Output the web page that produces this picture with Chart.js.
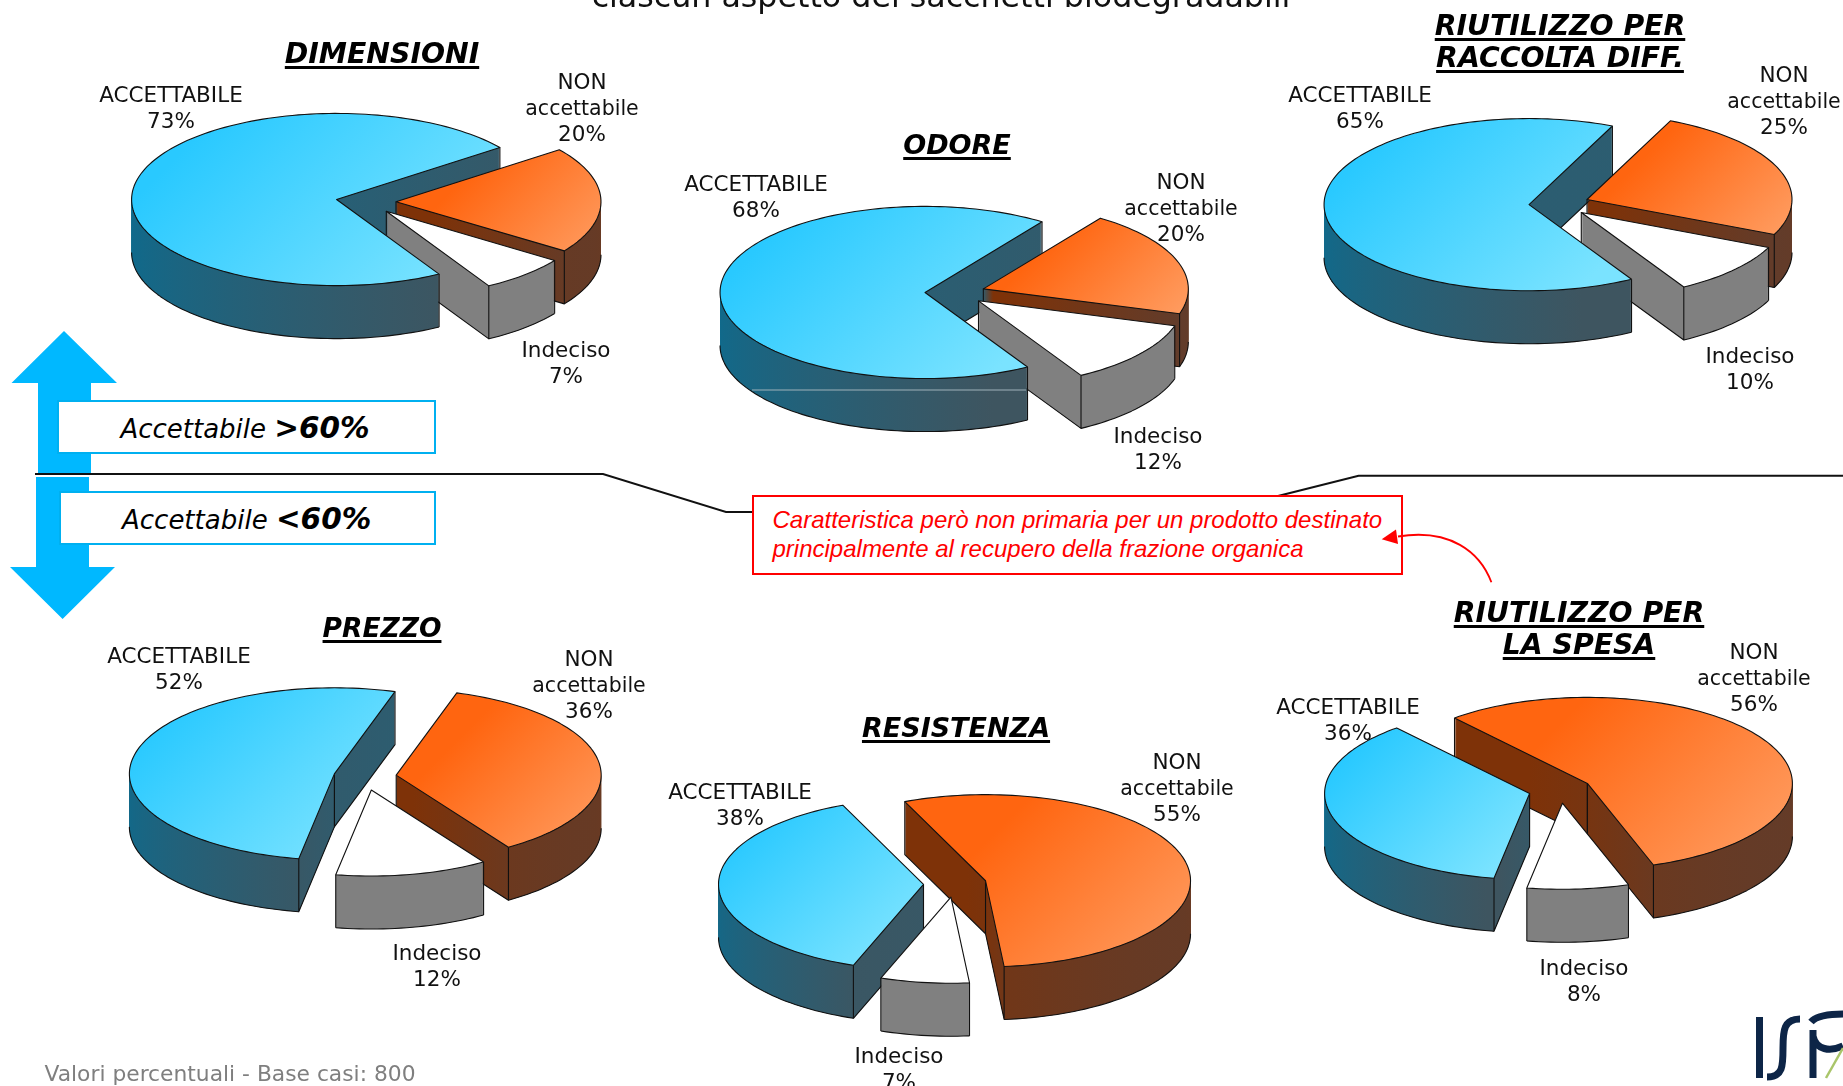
<!DOCTYPE html>
<html lang="it">
<head>
<meta charset="utf-8">
<title>Valutazione sacchetti biodegradabili</title>
<script src="https://cdn.jsdelivr.net/npm/chart.js@4/dist/chart.umd.min.js"></script>
<style>
  html, body { margin: 0; background: #fff; }
  #page { position: relative; width: 1843px; height: 1086px; overflow: hidden; font-family: "DejaVu Sans", sans-serif; color: #111; }
  #page canvas { position: absolute; }
  #page svg { position: absolute; left: 0; top: 0; }
  .txt { position: absolute; white-space: nowrap; text-align: center; transform: translateX(-50%); }
  .label { font-size: 21.5px; line-height: 25.5px; }
  .label span { font-size: 20.5px; }
  .title { line-height: 32px; font-weight: bold; font-style: italic; text-decoration: underline; text-decoration-thickness: 3px; text-underline-offset: 3px; color: #000; }
  .box { position: absolute; box-sizing: border-box; background: #fff; border: 2.5px solid #00b0f0; font-size: 26px; font-style: italic; line-height: 52px; padding-left: 61px; white-space: nowrap; color: #000; }
  .box b { font-size: 29.5px; }
  #note { position: absolute; box-sizing: border-box; left: 752px; top: 495px; width: 651px; height: 79.5px; background: #fff; border: 2.5px solid #f00; color: #f00; font: italic 24px/29px "Liberation Sans", sans-serif; padding: 8px 0 0 18.5px; white-space: nowrap; }
</style>
</head>
<body>
<div id="page"></div>
<script>
// values, one entry per pie
const pieTitles = ['DIMENSIONI', 'ODORE', 'RIUTILIZZO PER<br>RACCOLTA DIFF.', 'PREZZO', 'RESISTENZA', 'RIUTILIZZO PER<br>LA SPESA'];
const sliceLabels = ['ACCETTABILE', 'NON<br><span>accettabile</span>', 'Indeciso'];
const accettabile = [73, 68, 65, 52, 38, 36];
const nonAccettabile = [20, 20, 25, 36, 55, 56];
const indeciso = [7, 12, 10, 12, 7, 8];

const headline = 'ciascun aspetto dei sacchetti biodegradabili';
const footnote = 'Valori percentuali - Base casi: 800';
const noteLines = ['Caratteristica però non primaria per un prodotto destinato', 'principalmente al recupero della frazione organica'];

// layout: pie centre, start angle, slice gap, title size
const pieCentres = [[365.5, 202], [955, 293.3], [1559.2, 203.9], [365, 776.5], [954.5, 883.5], [1560, 790]];
const pieRotation = [150, 150, 150, 190, 200, 190];
const pieExplode = [30, 30, 30, 31.5, 31.5, 31.5];
const titleSizes = [28.3, 27, 28.3, 26.5, 27, 28.3];
const titleAnchors = [[382, 38], [957, 129], [1560, 10], [382, 612], [956, 712], [1579, 597]];
const labelAnchors = [
  [[171, 82], [582, 69], [566, 337]],
  [[756, 171], [1181, 169], [1158, 423]],
  [[1360, 82], [1784, 62], [1750, 343]],
  [[179, 643], [589, 646], [437, 940]],
  [[740, 779], [1177, 749], [899, 1043]],
  [[1348, 694], [1754, 639], [1584, 955]],
];

const RADIUS = 205;
const TILT = 0.42;
const DEPTH = 53;
const CANVAS = 580;

const topColors = [['#29c9ff', '#7ae3ff'], ['#ff6510', '#ffa066'], ['#ffffff', '#ffffff']];
const wallColors = [['#0f6a8c', '#3e5560'], ['#7e3208', '#5f3d2e'], ['#808080', '#808080']];

const page = document.getElementById('page');

function addText(cls, html, x, y) {
  const el = document.createElement('div');
  el.className = 'txt ' + cls;
  el.innerHTML = html;
  el.style.left = x + 'px';
  el.style.top = y + 'px';
  page.appendChild(el);
  return el;
}

// one slice with its exploded position and gradients
function makeSlice(arc, i, ctx, explode) {
  const a = arc.startAngle, b = arc.endAngle, mid = (a + b) / 2;
  const s = { arc, i, a, b, mid, ox: arc.x + Math.cos(mid) * explode, oy: Math.sin(mid) * explode };
  s.discY = arc.y + s.oy;

  const xs = [0, Math.cos(a), Math.cos(b)], ys = [0, Math.sin(a), Math.sin(b)];
  for (let k = -4; k <= 8; k++) {
    const q = k * Math.PI / 2;
    if (q > a && q < b) { xs.push(Math.cos(q)); ys.push(Math.sin(q)); }
  }
  const x0 = s.ox + Math.min(...xs) * RADIUS, x1 = s.ox + Math.max(...xs) * RADIUS;
  const y0 = s.discY + Math.min(...ys) * RADIUS, y1 = s.discY + Math.max(...ys) * RADIUS;
  // the disc is squashed afterwards: pick the vector that looks diagonal on screen
  const t = ((x1 - x0) + TILT * (y1 - y0)) / (1 + TILT * TILT);
  const grad = (c) => {
    const g = ctx.createLinearGradient(x0, y0, x0 + t, y0 + t * TILT);
    g.addColorStop(0.22, c[0]);
    g.addColorStop(0.95, c[1]);
    return g;
  };
  s.top = grad(topColors[i]);
  s.wall = grad(wallColors[i]);

  // part of the slice facing the viewer (angles 0..180)
  s.front = null;
  for (const k of [-1, 0, 1, 2]) {
    const lo = Math.max(a, k * 2 * Math.PI), hi = Math.min(b, k * 2 * Math.PI + Math.PI);
    if (hi > lo && (!s.front || hi - lo > s.front[1] - s.front[0])) s.front = [lo, hi];
  }
  return s;
}

function fillArc(ctx, s, from, to, fill, z) {
  const shim = Object.create(s.arc, {
    startAngle: { value: from },
    endAngle: { value: to },
    circumference: { value: to - from },
    options: { value: { backgroundColor: fill, borderWidth: 0, borderRadius: 0, offset: 0, spacing: 0, borderAlign: 'center', circular: true } },
  });
  ctx.save();
  ctx.translate(s.arc.x, s.arc.y);
  ctx.scale(1, TILT);
  ctx.translate(-s.arc.x, -s.arc.y);
  ctx.translate(s.ox - s.arc.x, s.oy + z / TILT);
  s.arc.draw.call(shim, ctx);
  ctx.restore();
}

function rimPoint(s, angle, z, r) {
  return [s.ox + r * Math.cos(angle), s.arc.y + (s.oy + r * Math.sin(angle)) * TILT + z];
}

function strokePoints(ctx, pts, close) {
  ctx.beginPath();
  pts.forEach((p, n) => (n ? ctx.lineTo(p[0], p[1]) : ctx.moveTo(p[0], p[1])));
  if (close) ctx.closePath();
  ctx.strokeStyle = '#111';
  ctx.lineWidth = 1.1;
  ctx.lineJoin = 'round';
  ctx.stroke();
}

function rimPoints(s, from, to, z) {
  const pts = [];
  const n = Math.max(2, Math.ceil((to - from) / 0.03));
  for (let k = 0; k <= n; k++) pts.push(rimPoint(s, from + (to - from) * k / n, z, RADIUS));
  return pts;
}

function faceVisible(s, angle) {
  return angle === s.a ? -Math.cos(angle) > 0 : Math.cos(angle) > 0;
}

function strokeFace(ctx, s, angle) {
  strokePoints(ctx, [rimPoint(s, angle, 0, 0), rimPoint(s, angle, DEPTH, 0), rimPoint(s, angle, DEPTH, RADIUS), rimPoint(s, angle, 0, RADIUS)]);
}

const pie3d = {
  id: 'pie3d',
  beforeDatasetsDraw(chart) {
    const ctx = chart.ctx;
    const explode = chart.options.plugins.pie3d.explode;
    const slices = chart.getDatasetMeta(0).data.map((arc, i) => makeSlice(arc, i, ctx, explode));

    // whole extrusions, rear slices first
    [...slices].sort((p, q) => Math.sin(p.mid) - Math.sin(q.mid)).forEach(s => {
      for (let z = DEPTH; z >= 1; z--) fillArc(ctx, s, s.a, s.b, s.wall, z);
      [s.a, s.b].forEach(angle => {
        if (faceVisible(s, angle) && Math.sin(angle) < 0) strokeFace(ctx, s, angle);
      });
    });

    // front walls again, so they sit over the neighbours
    const frontMid = s => Math.sin((s.front[0] + s.front[1]) / 2);
    slices.filter(s => s.front).sort((p, q) => frontMid(p) - frontMid(q)).forEach(s => {
      const [lo, hi] = s.front;
      for (let z = DEPTH; z >= 1; z--) fillArc(ctx, s, lo, hi, s.wall, z);
      strokePoints(ctx, rimPoints(s, lo, hi, DEPTH));
      [s.a, s.b].forEach(angle => {
        if (Math.sin(angle) < 0) return;
        if (faceVisible(s, angle)) strokeFace(ctx, s, angle);
        else strokePoints(ctx, [rimPoint(s, angle, 0, RADIUS), rimPoint(s, angle, DEPTH, RADIUS)]);
      });
    });

    // top faces
    slices.forEach(s => {
      fillArc(ctx, s, s.a, s.b, s.top, 0);
      strokePoints(ctx, [rimPoint(s, s.a, 0, 0), ...rimPoints(s, s.a, s.b, 0)], true);
    });
    return false;
  },
};

pieTitles.forEach((title, p) => {
  const canvas = document.createElement('canvas');
  canvas.width = CANVAS;
  canvas.height = CANVAS;
  canvas.style.left = (pieCentres[p][0] - CANVAS / 2) + 'px';
  canvas.style.top = (pieCentres[p][1] - CANVAS / 2) + 'px';
  page.appendChild(canvas);

  new Chart(canvas, {
    type: 'pie',
    data: {
      labels: ['ACCETTABILE', 'NON accettabile', 'Indeciso'],
      datasets: [{ data: [accettabile[p], nonAccettabile[p], indeciso[p]], backgroundColor: ['#29c9ff', '#ff6510', '#ffffff'], borderWidth: 0 }],
    },
    options: {
      responsive: false,
      animation: false,
      events: [],
      radius: RADIUS,
      rotation: pieRotation[p],
      plugins: { legend: { display: false }, tooltip: { enabled: false }, pie3d: { explode: pieExplode[p] } },
    },
    plugins: [pie3d],
  });
});

// arrows, dividing lines, logo
const NS = 'http://www.w3.org/2000/svg';
const svg = document.createElementNS(NS, 'svg');
svg.setAttribute('width', 1843);
svg.setAttribute('height', 1086);
svg.innerHTML = `
  <polygon points="64,331 117,383 91,383 91,473 38,473 38,383 11.5,383" fill="#00b8ff"/>
  <polygon points="36,477 89,477 89,567 115,567 62.6,619 10,567 36,567" fill="#00b8ff"/>
  <polyline points="35,474 603,474 726,512 752,512" fill="none" stroke="#111" stroke-width="2"/>
  <polyline points="1278,496 1358.6,475.7 1843,475.7" fill="none" stroke="#111" stroke-width="2"/>
  <line x1="752" y1="390" x2="1026" y2="390" stroke="#9fb2ba" stroke-width="1"/>
  <g id="logo" fill="none" stroke="#0d2547" stroke-width="7">
    <path d="M1759.5 1017V1078"/>
    <path d="M1800 1019C1784 1019 1783 1030 1783 1048C1783 1066 1783 1077 1767 1077"/>
    <path d="M1813 1078V1030M1811 1022C1816 1016 1830 1014 1843 1014M1813 1036C1816 1050 1830 1052 1843 1046"/>
  </g>
  <path d="M1826 1078L1843 1048" stroke="#a9c56a" stroke-width="2.5" fill="none"/>
`;
page.appendChild(svg);

const headEl = addText('', headline, 941, -20);
headEl.style.fontSize = '31.7px';
headEl.style.lineHeight = '32px';

pieTitles.forEach((title, p) => {
  addText('title', title, titleAnchors[p][0], titleAnchors[p][1]).style.fontSize = titleSizes[p] + 'px';
});

sliceLabels.forEach((label, s) => {
  const values = [accettabile, nonAccettabile, indeciso][s];
  values.forEach((v, p) => addText('label', `${label}<br>${v}%`, labelAnchors[p][s][0], labelAnchors[p][s][1]));
});

const boxes = [['&gt;60%', 57.4, 400.2, 378.6], ['&lt;60%', 59, 491.2, 377]];
boxes.forEach(([limit, x, y, w]) => {
  const el = document.createElement('div');
  el.className = 'box';
  el.style.left = x + 'px';
  el.style.top = y + 'px';
  el.style.width = w + 'px';
  el.style.height = '54px';
  el.innerHTML = `Accettabile <b>${limit}</b>`;
  page.appendChild(el);
});

const note = document.createElement('div');
note.id = 'note';
note.innerHTML = noteLines.join('<br>');
page.appendChild(note);

// callout curve sits above the note box
const svg2 = document.createElementNS(NS, 'svg');
svg2.setAttribute('width', 1843);
svg2.setAttribute('height', 1086);
svg2.innerHTML = `
  <path d="M1491.4 582.3C1480 552 1450 528 1398 536.5" fill="none" stroke="#f00" stroke-width="1.8"/>
  <polygon points="1381.7,539.3 1396,529.5 1398,544" fill="#f00"/>
`;
page.appendChild(svg2);

const foot = addText('', footnote, 0, 1061);
foot.style.cssText += 'font-size:21.8px;color:#7f7f7f;left:230px;';
</script>
</body>
</html>
